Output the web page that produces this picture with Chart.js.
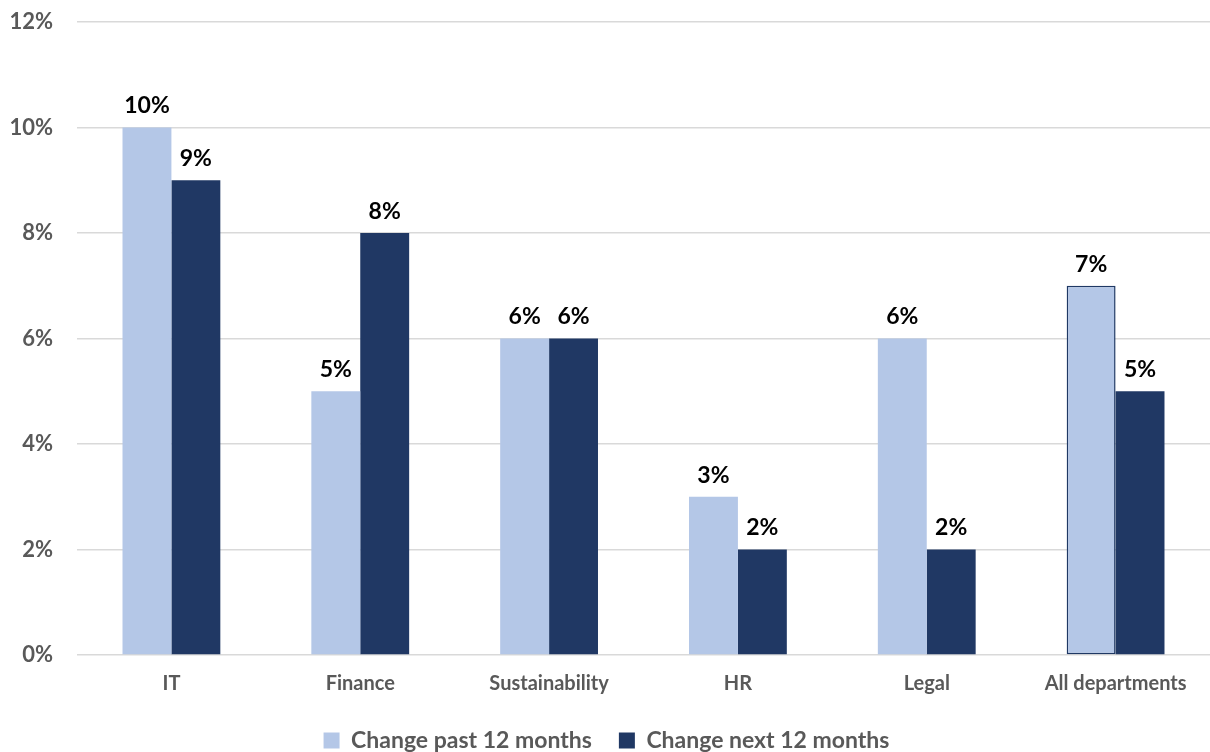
<!DOCTYPE html>
<html lang="en">

<head>
    <meta charset="UTF-8">
    <title>Department change chart</title>
    <script src="https://cdn.jsdelivr.net/npm/chart.js/dist/chart.umd.min.js"></script>
    <style>
        html, body { margin: 0; padding: 0; background: #fff; }
        #chartBox { width: 1210px; height: 752px; }
    </style>
</head>

<body>
    <div id="chartBox">
        <canvas id="myChart" width="1210" height="752"></canvas>
    </div>
    <script>
        const departments = ['IT', 'Finance', 'Sustainability', 'HR', 'Legal', 'All departments'];
        const pastChange = [10, 5, 6, 3, 6, 7];
        const nextChange = [9, 8, 6, 2, 2, 5];
        const yTicks = [0, 2, 4, 6, 8, 10, 12];

        const FONT = 'Lato, "Open Sans", sans-serif';

        // draws the value above every bar
        const valueLabels = {
            id: 'valueLabels',
            afterDatasetsDraw(chart) {
                const ctx = chart.ctx;
                ctx.save();
                ctx.font = 'bold 23px ' + FONT;
                ctx.fillStyle = '#000';
                ctx.textAlign = 'center';
                ctx.textBaseline = 'bottom';
                chart.data.datasets.forEach(function (ds, i) {
                    chart.getDatasetMeta(i).data.forEach(function (bar, j) {
                        ctx.fillText(ds.data[j] + '%', bar.x, bar.y - 10);
                    });
                });
                ctx.restore();
            }
        };

        const data = {
            labels: departments,
            datasets: [{
                label: 'Change past 12 months',
                data: pastChange,
                backgroundColor: '#b4c7e7',
                borderColor: ['#b4c7e7', '#b4c7e7', '#b4c7e7', '#b4c7e7', '#b4c7e7', '#1f3864'],
                borderWidth: [0, 0, 0, 0, 0, 1.5],
                borderSkipped: false
            }, {
                label: 'Change next 12 months',
                data: nextChange,
                backgroundColor: '#203864',
                borderWidth: 0
            }]
        };

        const config = {
            type: 'bar',
            data: data,
            options: {
                responsive: false,
                animation: false,
                layout: { padding: { top: 0, right: -3, left: 0, bottom: -10 } },
                datasets: {
                    bar: { categoryPercentage: 0.518, barPercentage: 1 }
                },
                scales: {
                    x: {
                        grid: { display: false },
                        border: { display: false },
                        ticks: {
                            color: '#595959',
                            font: { family: FONT, size: 20, weight: 'bold' },
                            padding: 9
                        },
                        afterFit(axis) { axis.height = 47; }
                    },
                    y: {
                        min: 0,
                        max: 12,
                        afterBuildTicks(axis) { axis.ticks = yTicks.map(v => ({ value: v })); },
                        grid: { color: '#d9d9d9', lineWidth: 1.5, drawTicks: false },
                        border: { display: false },
                        ticks: {
                            color: '#595959',
                            font: { family: FONT, size: 22, weight: 'bold' },
                            padding: 24,
                            callback: v => v + '%'
                        },
                        afterFit(axis) {
                            axis.width = 77;
                            axis.paddingTop = 22;
                            axis.paddingBottom = 0;
                        }
                    }
                },
                plugins: {
                    tooltip: { enabled: false },
                    legend: {
                        position: 'bottom',
                        labels: {
                            color: '#595959',
                            font: { family: FONT, size: 23, weight: 'bold' },
                            boxWidth: 16,
                            boxHeight: 16,
                            padding: 27
                        }
                    }
                }
            },
            plugins: [valueLabels]
        };

        const myChart = new Chart(document.getElementById('myChart'), config);
    </script>
</body>

</html>
